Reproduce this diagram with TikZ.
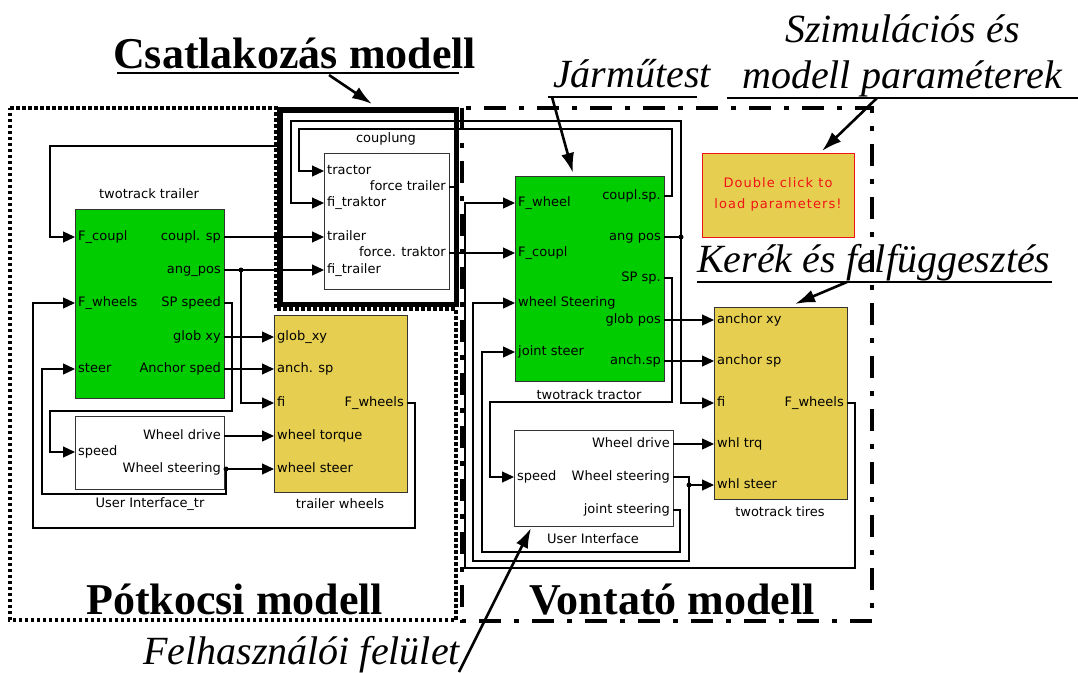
\documentclass[tikz,border=0pt]{standalone}
\usepackage{fontspec}
\setmainfont{Liberation Serif}
\newfontfamily\simfont{DejaVu Sans}
\newfontfamily\simfontsp[LetterSpace=8]{DejaVu Sans}
\usetikzlibrary{arrows.meta}
\definecolor{simgreen}{RGB}{0,204,0}
\definecolor{simyellow}{RGB}{230,206,80}
\definecolor{simred}{RGB}{240,20,20}
\tikzset{
 blk/.style={draw=black!80, line width=1.4pt, anchor=north west, inner sep=0pt},
 gblk/.style={blk, fill=simgreen},
 yblk/.style={blk, fill=simyellow},
 wblk/.style={blk, fill=white},
 lbl/.style={font=\simfont\fontsize{13}{15}\selectfont, inner sep=0pt, text height=9.5pt, text depth=2.5pt},
 inl/.style={lbl, anchor=west, xshift=3pt},
 outl/.style={lbl, anchor=east, xshift=-3pt},
 ttl/.style={lbl},
 redl/.style={font=\simfontsp\fontsize{13}{15}\selectfont, text=simred, inner sep=0pt},
 sig/.style={line width=1.2pt, -{Triangle[length=12pt,width=11pt]}},
 jdot/.style={circle, fill=black, inner sep=0pt, minimum size=5pt},
 ann/.style={line width=2.6pt, -{Latex[length=20pt,width=13pt]}},
 uline/.style={line width=2.8pt},
 big/.style={font=\bfseries\fontsize{44}{48}\selectfont, inner sep=0pt, anchor=base west},
 itl/.style={font=\itshape\fontsize{40}{44}\selectfont, inner sep=0pt, anchor=base west},
 dotbox/.style={line width=3.5pt, dash pattern=on 3.5pt off 2.5pt},
 dashdotbox/.style={line width=4.5pt, dash pattern=on 22pt off 13pt on 5pt off 13pt},
 thickbox/.style={line width=5.5pt},
}
\begin{document}
\begin{tikzpicture}[x=1pt,y=-1pt]
\path[use as bounding box] (0,0) rectangle (1078,672);

% ---------- region boxes
\draw[dotbox] (10,108) -- (276,108) -- (276,309) -- (456,309) -- (456,620) -- (10,620) -- cycle;
\draw[dashdotbox] (462,108) rectangle (872,621);

% ---------- blocks
\node[gblk, minimum width=149pt, minimum height=189pt] (tr) at (75,209) {};
\node[wblk, minimum width=125pt, minimum height=136pt] (cp) at (324,153) {};
\node[gblk, minimum width=149pt, minimum height=205pt] (tc) at (515,176) {};
\node[yblk, minimum width=133pt, minimum height=177pt] (tw) at (274,315) {};
\node[yblk, minimum width=133pt, minimum height=192pt] (ti) at (714,307) {};
\node[wblk, minimum width=149pt, minimum height=73pt] (u1) at (75,416) {};
\node[wblk, minimum width=159pt, minimum height=96pt] (u2) at (514,430) {};
\node[yblk, draw=simred, minimum width=152pt, minimum height=84pt] (par) at (702,153) {};

% ---------- ports
\coordinate (tr-i1) at (75,237);  \coordinate (tr-i2) at (75,303);  \coordinate (tr-i3) at (75,369);
\coordinate (tr-o1) at (224,237); \coordinate (tr-o2) at (224,270); \coordinate (tr-o3) at (224,303);
\coordinate (tr-o4) at (224,337); \coordinate (tr-o5) at (224,369);
\coordinate (cp-i1) at (324,171); \coordinate (cp-i2) at (324,203); \coordinate (cp-i3) at (324,237);
\coordinate (cp-i4) at (324,270); \coordinate (cp-o1) at (449,187); \coordinate (cp-o2) at (449,253);
\coordinate (tc-i1) at (515,203); \coordinate (tc-i2) at (515,253); \coordinate (tc-i3) at (515,303);
\coordinate (tc-i4) at (515,352);
\coordinate (tc-o1) at (664,196); \coordinate (tc-o2) at (664,237); \coordinate (tc-o3) at (664,278);
\coordinate (tc-o4) at (664,320); \coordinate (tc-o5) at (664,361);
\coordinate (tw-i1) at (274,337); \coordinate (tw-i2) at (274,369); \coordinate (tw-i3) at (274,403);
\coordinate (tw-i4) at (274,436); \coordinate (tw-i5) at (274,469); \coordinate (tw-o1) at (407,403);
\coordinate (ti-i1) at (714,320); \coordinate (ti-i2) at (714,361); \coordinate (ti-i3) at (714,403);
\coordinate (ti-i4) at (714,444); \coordinate (ti-i5) at (714,485); \coordinate (ti-o1) at (847,403);
\coordinate (u1-i1) at (75,452);  \coordinate (u1-o1) at (224,436); \coordinate (u1-o2) at (224,469);
\coordinate (u2-i1) at (514,477); \coordinate (u2-o1) at (673,444); \coordinate (u2-o2) at (673,477);
\coordinate (u2-o3) at (673,510);
\coordinate (j1) at (241,270); \coordinate (j2) at (226,469);
\coordinate (j3) at (681,237); \coordinate (j4) at (689,485);

% ---------- wires
\draw[sig] (tr-o1) -- (cp-i3);
\draw[sig] (tr-o2) -- (cp-i4);
\draw[sig] (j1) |- (tw-i3);
\draw[sig] (tr-o3) -- (232,303) -- (232,411) -- (50,411) |- (u1-i1);
\draw[sig] (tr-o4) -- (tw-i1);
\draw[sig] (tr-o5) -- (tw-i2);
\draw[sig] (u1-o1) -- (tw-i4);
\draw[sig] (u1-o2) -- (tw-i5);
\draw[sig] (j2) -- (226,494) -- (42,494) |- (tr-i3);
\draw[sig] (tw-o1) -- (415,403) -- (415,528) -- (33,528) |- (tr-i2);
\draw[sig] (cp-o1) -- (457,187) -- (457,110) -- (281,110) -- (281,146) -- (50,146) |- (tr-i1);
\draw[sig] (tc-o1) -- (672,196) -- (672,129) -- (299,129) |- (cp-i1);
\draw[sig] (tc-o2) -- (j3) -- (681,121) -- (291,121) |- (cp-i2);
\draw[sig] (j3) |- (ti-i3);
\draw[sig] (cp-o2) -- (tc-i2);
\draw[sig] (tc-o3) -- (672,278) -- (672,402) -- (490,402) |- (u2-i1);
\draw[sig] (tc-o4) -- (ti-i1);
\draw[sig] (tc-o5) -- (ti-i2);
\draw[sig] (u2-o1) -- (ti-i4);
\draw[sig] (u2-o2) -- (689,477) -- (j4) -- (ti-i5);
\draw[sig] (j4) -- (689,561) -- (473,561) |- (tc-i3);
\draw[sig] (u2-o3) -- (680,510) -- (680,552) -- (482,552) |- (tc-i4);
\draw[sig] (ti-o1) -- (855,403) -- (855,568) -- (465,568) |- (tc-i1);
\node[jdot] (d1) at (j1) {};
\node[jdot] (d2) at (j2) {};
\node[jdot] (d3) at (j3) {};
\node[jdot] (d4) at (j4) {};

% ---------- labels: trailer
\node[ttl] (t-tr) at (149,195) {twotrack trailer};
\node[inl] (l1) at (tr-i1) {F\_coupl};
\node[inl] (l2) at (tr-i2) {F\_wheels};
\node[inl] (l3) at (tr-i3) {steer};
\node[outl] (l4) at (tr-o1) {coupl. sp};
\node[outl] (l5) at (tr-o2) {ang\_pos};
\node[outl] (l6) at (tr-o3) {SP speed};
\node[outl] (l7) at (tr-o4) {glob xy};
\node[outl] (l8) at (tr-o5) {Anchor sped};
% coupling
\node[ttl] (t-cp) at (386,139) {couplung};
\node[inl] (l9) at (cp-i1) {tractor};
\node[inl] (l10) at (cp-i2) {fi\_traktor};
\node[inl] (l11) at (cp-i3) {trailer};
\node[inl] (l12) at (cp-i4) {fi\_trailer};
\node[outl] (l13) at (cp-o1) {force trailer};
\node[outl] (l14) at (cp-o2) {force. traktor};
% tractor
\node[ttl] (t-tc) at (589,396) {twotrack tractor};
\node[inl] (l15) at (tc-i1) {F\_wheel};
\node[inl] (l16) at (tc-i2) {F\_coupl};
\node[inl] (l17) at (tc-i3) {wheel Steering};
\node[inl] (l18) at (tc-i4) {joint steer};
\node[outl] (l19) at (tc-o1) {coupl.sp.};
\node[outl] (l20) at (tc-o2) {ang pos};
\node[outl] (l21) at (tc-o3) {SP sp.};
\node[outl] (l22) at (tc-o4) {glob pos};
\node[outl] (l23) at (tc-o5) {anch.sp};
% trailer wheels
\node[ttl] (t-tw) at (340,505) {trailer wheels};
\node[inl] (l24) at (tw-i1) {glob\_xy};
\node[inl] (l25) at (tw-i2) {anch. sp};
\node[inl] (l26) at (tw-i3) {fi};
\node[inl] (l27) at (tw-i4) {wheel torque};
\node[inl] (l28) at (tw-i5) {wheel steer};
\node[outl] (l29) at (tw-o1) {F\_wheels};
% tires
\node[ttl] (t-ti) at (780,513) {twotrack tires};
\node[inl] (l30) at (ti-i1) {anchor xy};
\node[inl] (l31) at (ti-i2) {anchor sp};
\node[inl] (l32) at (ti-i3) {fi};
\node[inl] (l33) at (ti-i4) {whl trq};
\node[inl] (l34) at (ti-i5) {whl steer};
\node[outl] (l35) at (ti-o1) {F\_wheels};
% user interfaces
\node[ttl] (t-u1) at (150,504) {User Interface\_tr};
\node[inl] (l36) at (u1-i1) {speed};
\node[outl] (l37) at (u1-o1) {Wheel drive};
\node[outl] (l38) at (u1-o2) {Wheel steering};
\node[ttl] (t-u2) at (593,540) {User Interface};
\node[inl] (l39) at (u2-i1) {speed};
\node[outl] (l40) at (u2-o1) {Wheel drive};
\node[outl] (l41) at (u2-o2) {Wheel steering};
\node[outl] (l42) at (u2-o3) {joint steering};
% parameter block
\node[redl] (p1) at (778,183) {Double click to};
\node[redl] (p2) at (778,205) {load parameters!};

% ---------- coupling highlight
\draw[thickbox] (280,110) rectangle (456.5,304.5);

% ---------- annotations
\node[big] (tcs) at (113,68) {Csatlakozás modell};
\draw[uline] (117,73) -- (459,73);
\node[itl] (tjt) at (553,87) {Járműtest};
\draw[uline] (548,97) -- (697,97);
\node[itl] (tsz1) at (785,42) {Szimulációs és};
\node[itl] (tsz2) at (742,88) {modell paraméterek};
\draw[uline] (727,98) -- (1078,98);
\node[itl] (tke) at (697,272) {Kerék és felfüggesztés};
\draw[uline] (697,282) -- (1052,282);
\node[big] (tpk) at (86,614) {Pótkocsi modell};
\node[big] (tvm) at (529,614) {Vontató modell};
\node[itl] (tfe) at (143,664) {Felhasználói felület};

\coordinate (a1s) at (329,75);  \coordinate (a1e) at (372,104);
\coordinate (a2s) at (552,97);  \coordinate (a2e) at (573,173);
\coordinate (a3s) at (877,98);  \coordinate (a3e) at (822,151);
\coordinate (a4s) at (847,282); \coordinate (a4e) at (795,304);
\coordinate (a5s) at (459,672); \coordinate (a5e) at (531,528);
\draw[ann] (a1s) -- (a1e);
\draw[ann] (a2s) -- (a2e);
\draw[ann] (a3s) -- (a3e);
\draw[ann] (a4s) -- (a4e);
\draw[ann] (a5s) -- (a5e);
\end{tikzpicture}
\end{document}
